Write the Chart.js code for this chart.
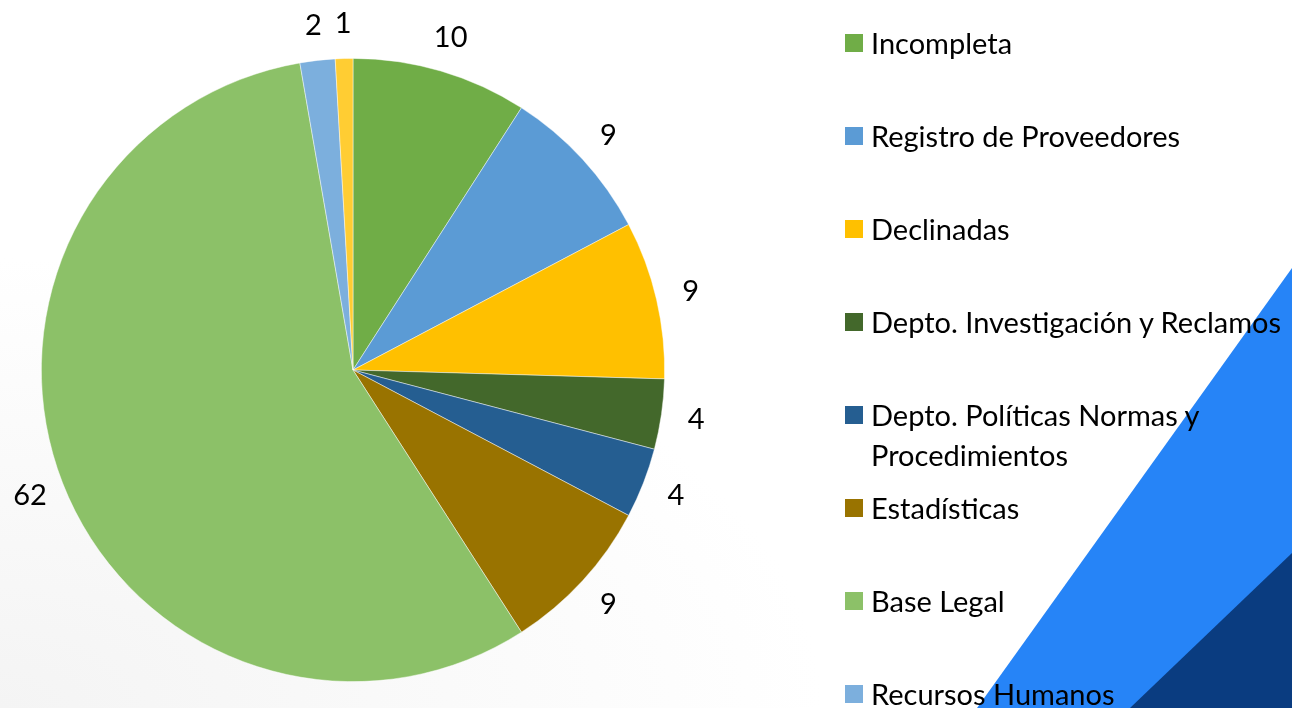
<!DOCTYPE html>
<html>
<head>
<meta charset="utf-8">
<script src="https://cdn.jsdelivr.net/npm/chart.js@4.4.0/dist/chart.umd.min.js"></script>
<style>
    html, body { margin: 0; padding: 0; }
    body {
        width: 1292px; height: 708px; overflow: hidden; position: relative;
        background: radial-gradient(ellipse at 0% 100%, #f4f4f4 0%, #ffffff 45%);
        font-family: Lato, "Noto Sans", sans-serif;
    }
    #wrap { position: absolute; left: 0; top: 0; width: 1292px; height: 708px; }
    #legend { position: absolute; left: 0; top: 0; }
    .item { position: absolute; left: 845px; display: flex; align-items: flex-start; white-space: pre; }
    .box { width: 18px; height: 18px; margin-top: 11px; margin-right: 8px; flex: none; }
    .txt { font-size: 29px; line-height: 40px; color: #000; }
</style>
</head>
<body>
<div id="wrap"><canvas id="chart"></canvas></div>
<div id="legend"></div>
<script>
const categories = ['Incompleta', 'Registro de Proveedores', 'Declinadas', 'Depto. Investigación y Reclamos',
    'Depto. Políticas Normas y Procedimientos', 'Estadísticas', 'Base Legal', 'Recursos Humanos', 'Otros'];
const values = [10, 9, 9, 4, 4, 9, 62, 2, 1];
const colors = ['#70AD47', '#5B9BD5', '#FFC000', '#43682B', '#255E91', '#997300', '#8CC168', '#7CAFDD', '#FFCD33'];

// blue decoration in the lower right corner
const backdrop = {
    id: 'backdrop',
    beforeDraw(chart) {
        let ctx = chart.ctx;
        ctx.save();
        ctx.fillStyle = '#2684F7';
        ctx.beginPath();
        ctx.moveTo(1292, 268);
        ctx.lineTo(977, 708);
        ctx.lineTo(1292, 708);
        ctx.fill();
        ctx.fillStyle = '#0A3C80';
        ctx.beginPath();
        ctx.moveTo(1292, 553);
        ctx.lineTo(1130, 708);
        ctx.lineTo(1292, 708);
        ctx.fill();
        ctx.restore();
    }
};

// value labels just outside the slices
const outsideLabels = {
    id: 'outsideLabels',
    afterDatasetsDraw(chart) {
        let ctx = chart.ctx;
        let meta = chart.getDatasetMeta(0);
        ctx.save();
        ctx.font = '29px Lato, "Noto Sans", sans-serif';
        ctx.fillStyle = '#000';
        ctx.textAlign = 'center';
        ctx.textBaseline = 'middle';
        meta.data.forEach((arc, i) => {
            let p = arc.getProps(['x', 'y', 'startAngle', 'endAngle', 'outerRadius'], true);
            let mid = (p.startAngle + p.endAngle) / 2;
            let r = p.outerRadius + 35;
            ctx.fillText(values[i], p.x + Math.cos(mid) * r, p.y + Math.sin(mid) * r);
        });
        ctx.restore();
    }
};

const chart = new Chart(document.getElementById('chart'), {
    type: 'pie',
    data: {
        labels: categories,
        datasets: [{
            data: values,
            backgroundColor: colors,
            borderColor: 'rgba(255,255,255,0.6)',
            borderWidth: 0.75
        }]
    },
    options: {
        responsive: true,
        maintainAspectRatio: false,
        animation: false,
        layout: { padding: { left: 41, top: 58, right: 627, bottom: 26 } },
        plugins: {
            legend: { display: false },
            tooltip: { enabled: false }
        }
    },
    plugins: [backdrop, outsideLabels]
});

// legend built from the same arrays; only the first eight fit on the page
let legend = document.getElementById('legend');
categories.forEach((name, i) => {
    let item = document.createElement('div');
    item.className = 'item';
    item.style.top = (23 + i * 93) + 'px';
    let box = document.createElement('div');
    box.className = 'box';
    box.style.background = colors[i];
    let txt = document.createElement('div');
    txt.className = 'txt';
    txt.textContent = name.replace('Normas y ', 'Normas y\n');
    item.appendChild(box);
    item.appendChild(txt);
    legend.appendChild(item);
});
</script>
</body>
</html>
